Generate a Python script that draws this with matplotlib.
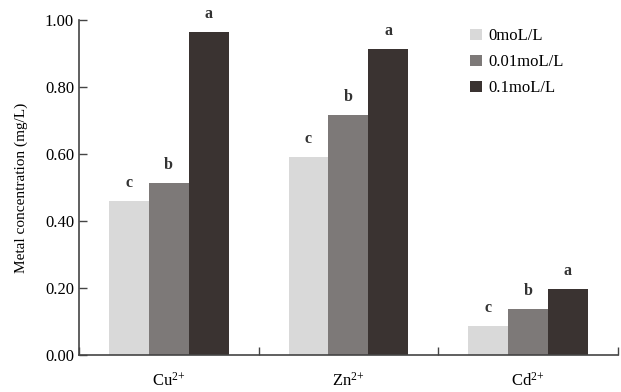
import numpy as np
import matplotlib
matplotlib.use('Agg')
import matplotlib.pyplot as plt

plt.rcParams['font.family'] = ['Liberation Serif', 'DejaVu Serif']
plt.rcParams['mathtext.fontset'] = 'custom'
plt.rcParams['mathtext.rm'] = 'Liberation Serif'
plt.rcParams['mathtext.default'] = 'regular'

metals = [r'Cu$^{2{+}}$', r'Zn$^{2{+}}$', r'Cd$^{2{+}}$']
treatments = ['0moL/L', '0.01moL/L', '0.1moL/L']
conc_0 = [0.46, 0.59, 0.087]
conc_001 = [0.513, 0.716, 0.137]
conc_01 = [0.964, 0.913, 0.197]
letters_0 = ['c', 'c', 'c']
letters_001 = ['b', 'b', 'b']
letters_01 = ['a', 'a', 'a']

colors = ['#d9d9d9', '#7d7978', '#3a3331']

fig = plt.figure(figsize=(6.21, 3.92), dpi=100)
ax = fig.add_axes([0.127, 0.094, 0.868, 0.855])

x = np.arange(len(metals))
width = 0.222
series = [conc_0, conc_001, conc_01]
letters = [letters_0, letters_001, letters_01]
for i, (vals, lab) in enumerate(zip(series, treatments)):
    pos = x + (i - 1) * width
    ax.bar(pos, vals, width, color=colors[i], label=lab, linewidth=0)
    for p, v, t in zip(pos, vals, letters[i]):
        ax.text(p, v + 0.03, t, ha='center', va='bottom', fontsize=11.5,
                fontweight='bold', color='#333333')

ax.set_xlim(-0.5, 2.5)
ax.set_ylim(0, 1.0)
ax.set_yticks(np.arange(0, 1.01, 0.2))
ax.set_yticklabels(['%.2f' % v for v in np.arange(0, 1.01, 0.2)], fontsize=12)
ax.set_xticks([-0.5, 0.5, 1.5, 2.5])
ax.set_xticklabels([])
ax.set_xticks(x, minor=True)
ax.set_xticklabels(metals, minor=True, fontsize=12)
ax.tick_params(axis='x', which='minor', length=0, pad=12)
ax.tick_params(axis='both', which='major', direction='in', length=6,
               width=1, color='#444444')
ax.set_ylabel('Metal concentration (mg/L)', fontsize=11, labelpad=12)

for side in ['top', 'right']:
    ax.spines[side].set_visible(False)
for side in ['left', 'bottom']:
    ax.spines[side].set_color('#444444')
    ax.spines[side].set_linewidth(1.2)

ax.legend(loc='upper left', bbox_to_anchor=(0.698, 1.02), frameon=False,
          fontsize=12, handlelength=0.7, handleheight=0.7,
          handletextpad=0.4, labelspacing=0.6)

plt.savefig('out.png', dpi=100)
